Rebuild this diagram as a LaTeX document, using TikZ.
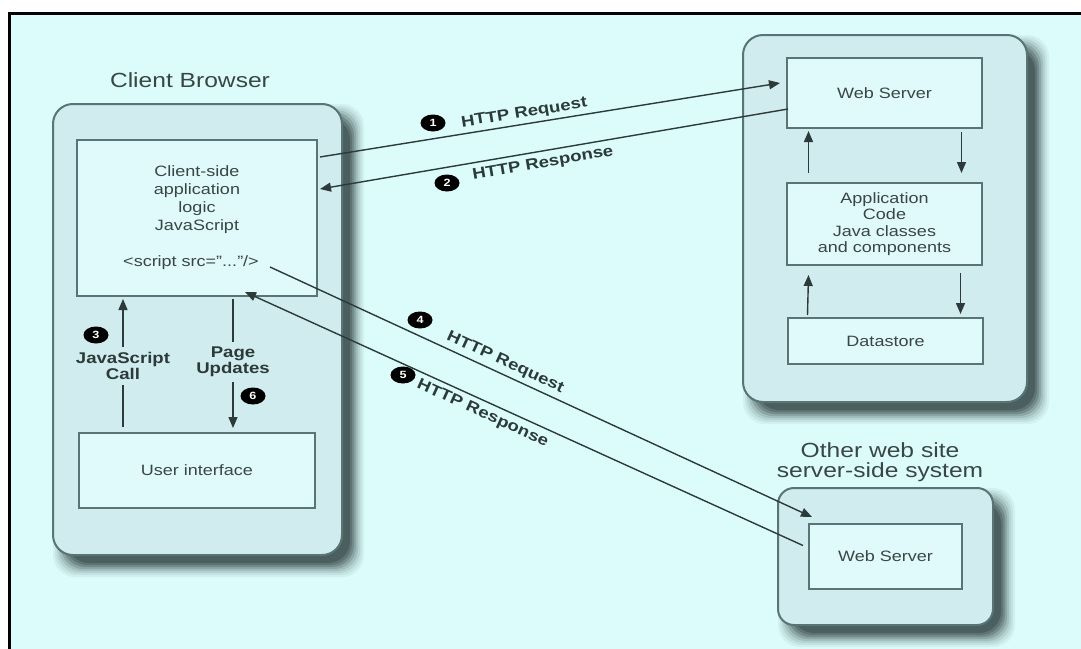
\documentclass[tikz,border=0pt]{standalone}
\usepackage{fontspec}
\setmainfont[FakeStretch=1.2]{Liberation Sans}
\usetikzlibrary{arrows.meta,shapes.geometric,calc}
\definecolor{bg}{HTML}{DCFCFC}
\definecolor{rbox}{HTML}{D0ECEE}
\definecolor{ibox}{HTML}{E0F9FA}
\definecolor{bord}{HTML}{587474}
\definecolor{lineC}{HTML}{2C3A3A}
\definecolor{txt}{HTML}{3A4646}
\definecolor{shadowC}{HTML}{1E2E2E}
\pgfdeclarelayer{bottom}
\pgfdeclarelayer{shadowlayer}
\pgfsetlayers{bottom,shadowlayer,main}
\begin{document}
\begin{tikzpicture}[x=1pt,y=-1pt,
  roundbox/.style={draw=bord, line width=2pt, fill=rbox, rounded corners=20pt, outer sep=0pt},
  innerbox/.style={draw=bord, line width=2pt, fill=ibox, outer sep=0pt, align=center, text=txt,
    font=\fontsize{15}{16.5}\selectfont},
  title/.style={text=txt, align=center, font=\fontsize{20.5}{20.5}\selectfont},
  blab/.style={text=lineC, align=center, font=\bfseries\fontsize{15.5}{16}\selectfont, inner sep=1pt},
  num/.style={ellipse, fill=black, text=white, minimum width=25pt, minimum height=17pt, inner sep=0pt,
    font=\bfseries\fontsize{10.5}{10.5}\selectfont},
  arr/.style={draw=lineC, line width=1.4pt, -{Triangle[length=11pt,width=9pt]}},
  arrrev/.style={draw=lineC, line width=1.4pt, {Triangle[length=11pt,width=9pt]}-},
  ln/.style={draw=lineC, line width=1.4pt},
  shadowpiece/.style={rounded corners=22pt}]
\useasboundingbox (0,0) rectangle (1081,648);
\begin{pgfonlayer}{bottom}
\fill[white] (0,0) rectangle (1081,648);
\draw[line width=3pt, fill=bg] (9,13) rectangle (1100,670);
\end{pgfonlayer}

% rounded containers
\node[roundbox, minimum width=289pt, minimum height=451pt] (cb) at (197.5,329.5) {};
\node[roundbox, minimum width=284pt, minimum height=367pt] (srv) at (885,218.5) {};
\node[roundbox, minimum width=215pt, minimum height=137pt, rounded corners=16pt] (oth) at (885.5,556.5) {};

% soft shadows (stepped gradient)
\begin{pgfonlayer}{shadowlayer}
\foreach \bx in {cb,srv,oth}{
  \foreach \r/\k in {12/6,10/12,8/20,6/30,4/42,2/55,0/66,-2/76}{
    \fill[shadowpiece, fill=shadowC!\k!bg] ($(\bx.north west)+(12-\r,12-\r)$) rectangle ($(\bx.south east)+(10+\r,10+\r)$);
  }
}
\end{pgfonlayer}

% titles
\node[title] (cbt) at (190,80) {Client Browser};
\node[title] (otht) at (880,462) {Other web site\\server-side system};

% inner boxes
\node[innerbox, minimum width=240pt, minimum height=156pt, font=\fontsize{15}{18}\selectfont] (cs) at (197,218)
  {Client-side\\application\\logic\\JavaScript\\[18pt]\hspace*{-12pt}<script src="..."/>};
\node[innerbox, minimum width=236pt, minimum height=75pt] (ui) at (197,470.5) {User interface};
\node[innerbox, minimum width=195pt, minimum height=70pt] (ws1) at (884.5,93) {Web Server};
\node[innerbox, minimum width=195pt, minimum height=82pt] (app) at (884.5,224)
  {Application\\Code\\Java classes\\and components};
\node[innerbox, minimum width=195pt, minimum height=46pt] (ds) at (885.5,341) {Datastore};
\node[innerbox, minimum width=153pt, minimum height=65pt] (ws2) at (885.5,556.5) {Web Server};

% client internal arrows
\node[blab, inner ysep=5pt] (jsc) at (123,366) {JavaScript\\Call};
\node[blab, inner ysep=5pt] (pu) at (233,362) {Page\\Updates};
\draw[ln] ([yshift=6pt]ui.north -| jsc) -- (jsc.south);
\draw[arr] (jsc.north) -- ([yshift=-3pt]cs.south -| jsc);
\draw[ln] ([yshift=-3pt]cs.south -| pu) -- (pu.north);
\draw[arr] (pu.south) -- ([yshift=5pt]ui.north -| pu);

% server internal arrows
\draw[arr] ([xshift=-76pt,yshift=10pt]app.north) -- ([xshift=-76pt,yshift=-3pt]ws1.south);
\draw[arr] ([xshift=77pt,yshift=-4pt]ws1.south) -- ([xshift=77pt,yshift=10pt]app.north);
\draw[arr] ([xshift=-78pt,yshift=3pt]ds.north) -- ([xshift=-76pt,yshift=-10pt]app.south);
\draw[arr] ([xshift=76pt,yshift=-8pt]app.south) -- ([xshift=75pt,yshift=4pt]ds.north);

% HTTP arrows
\draw[arr] ([xshift=3pt,yshift=61pt]cs.east) -- node[blab, sloped, pos=0.448, above=2pt] {HTTP Request}
  ([xshift=-7pt,yshift=10pt]ws1.west);
\draw[arrrev] ([xshift=3pt,yshift=29pt]cs.east) -- node[blab, sloped, pos=0.472, below=4pt] {HTTP Response}
  ([xshift=1pt,yshift=-16pt]ws1.west);
\draw[arr] ([xshift=73pt,yshift=-49pt]cs.center) -- node[blab, sloped, pos=0.425, above=3pt] {HTTP Request}
  ([xshift=3pt,yshift=7pt]ws2.north west);
\draw[arrrev] ([xshift=48pt,yshift=4pt]cs.south) -- node[blab, sloped, pos=0.435, below=4pt] {HTTP Response}
  ([xshift=-6pt,yshift=11pt]ws2.west);

% step numbers
\node[num] (n1) at (433,123) {1};
\node[num] (n2) at (447,183) {2};
\node[num] (n3) at (96,335) {3};
\node[num] (n4) at (420,320) {4};
\node[num] (n5) at (403,375) {5};
\node[num] (n6) at (253,396) {6};
\end{tikzpicture}
\end{document}
